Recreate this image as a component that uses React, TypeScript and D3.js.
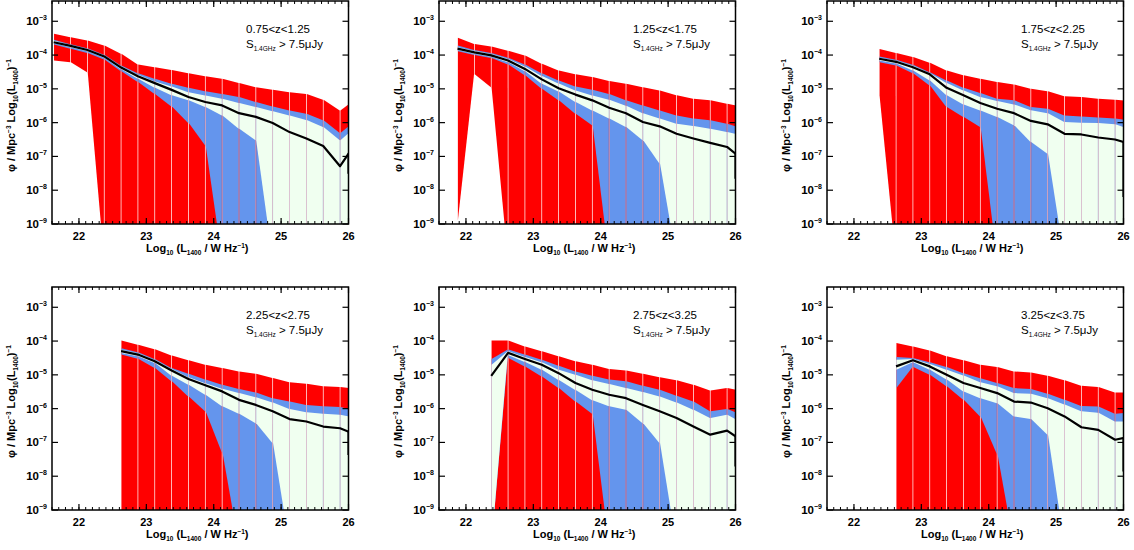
import * as d3 from "d3";

// six redshift slices (values are log10 phi)
const zRanges = ["0.75<z<1.25", "1.25<z<1.75", "1.75<z<2.25", "2.25<z<2.75", "2.75<z<3.25", "3.25<z<3.75"];
const binCentres = [21.625, 21.875, 22.125, 22.375, 22.625, 22.875, 23.125, 23.375, 23.625, 23.875, 24.125, 24.375, 24.625, 24.875, 25.125, 25.375, 25.625, 25.875, 26.125];
const firstBin = [0, 1, 3, 4, 3, 4];
const xTicks = [22, 23, 24, 25, 26];
const yDecades = [-9, -8, -7, -6, -5, -4, -3];

const redUpper = [
  [-3.37, -3.47, -3.57, -3.72, -3.96, -4.28, -4.36, -4.44, -4.54, -4.63, -4.70, -4.83, -4.95, -5.03, -5.10, -5.15, -5.32, -5.64, -5.28],
  [-3.49, -3.67, -3.75, -3.87, -4.01, -4.26, -4.46, -4.57, -4.65, -4.77, -4.85, -4.95, -5.05, -5.19, -5.29, -5.34, -5.44, -5.54],
  [-3.82, -3.94, -4.06, -4.23, -4.46, -4.60, -4.70, -4.80, -4.87, -5.00, -5.07, -5.22, -5.24, -5.29, -5.32, -5.36],
  [-3.98, -4.11, -4.24, -4.43, -4.57, -4.70, -4.80, -4.90, -4.97, -5.09, -5.22, -5.26, -5.34, -5.36, -5.42],
  [-3.98, -3.98, -4.16, -4.30, -4.45, -4.60, -4.70, -4.83, -4.87, -4.97, -5.07, -5.16, -5.29, -5.46, -5.39, -5.49],
  [-4.06, -4.16, -4.28, -4.45, -4.57, -4.70, -4.77, -4.90, -4.93, -5.03, -5.16, -5.32, -5.36, -5.52, -5.52],
];
const redLower = [
  [-4.16, -4.21, -4.51, -10, -10, -10, -10, -10, -10, -10, -10, -10, -10, -10, -10, -10, -10, -10, -10],
  [-8.9, -4.57, -4.95, -10, -10, -10, -10, -10, -10, -10, -10, -10, -10, -10, -10, -10, -10, -10],
  [-5.2, -10, -10, -10, -10, -10, -10, -10, -10, -10, -10, -10, -10, -10, -10, -10],
  [-10, -10, -10, -10, -10, -10, -10, -10, -10, -10, -10, -10, -10, -10, -10],
  [-10, -10, -10, -10, -10, -10, -10, -10, -10, -10, -10, -10, -10, -10, -10, -10],
  [-10, -10, -10, -10, -10, -10, -10, -10, -10, -10, -10, -10, -10, -10, -10],
];
const blueUpper = [
  [-3.55, -3.68, -3.80, -3.99, -4.31, -4.54, -4.70, -4.85, -4.97, -5.07, -5.15, -5.24, -5.39, -5.52, -5.64, -5.74, -5.93, -6.31, -5.91],
  [-3.72, -3.85, -3.94, -4.08, -4.28, -4.54, -4.75, -4.93, -5.03, -5.15, -5.34, -5.49, -5.64, -5.79, -5.88, -5.93, -6.03, -6.19],
  [-4.04, -4.14, -4.29, -4.51, -4.75, -4.97, -5.12, -5.29, -5.34, -5.54, -5.59, -5.79, -5.82, -5.85, -5.88, -5.94],
  [-4.21, -4.33, -4.53, -4.80, -4.97, -5.14, -5.29, -5.42, -5.52, -5.69, -5.79, -5.89, -5.93, -5.95, -6.07],
  [-4.53, -4.25, -4.40, -4.55, -4.73, -4.90, -5.03, -5.14, -5.19, -5.32, -5.44, -5.62, -5.79, -6.08, -6.01, -6.21],
  [-4.47, -4.50, -4.63, -4.77, -4.95, -5.10, -5.24, -5.39, -5.42, -5.56, -5.74, -5.92, -5.94, -6.15, -6.11],
];
const blueLower = [
  [-3.69, -3.81, -3.94, -4.13, -4.48, -4.80, -5.15, -5.52, -6.01, -6.67, -10, -10, -10, -10, -10, -10, -10, -10, -10],
  [-3.89, -4.00, -4.09, -4.28, -4.60, -5.00, -5.34, -5.74, -6.08, -10, -10, -10, -10, -10, -10, -10, -10, -10],
  [-4.21, -4.31, -4.54, -4.90, -5.54, -5.83, -6.13, -10, -10, -10, -10, -10, -10, -10, -10, -10],
  [-4.40, -4.52, -4.80, -5.19, -5.64, -6.08, -7.30, -10, -10, -10, -10, -10, -10, -10, -10],
  [-10, -4.50, -4.75, -5.05, -5.39, -5.79, -6.15, -10, -10, -10, -10, -10, -10, -10, -10, -10],
  [-5.39, -4.77, -5.00, -5.34, -5.74, -6.23, -7.34, -10, -10, -10, -10, -10, -10, -10, -10],
];
const greenUpper = [
  [-3.58, -3.70, -3.82, -4.01, -4.33, -4.58, -4.78, -4.93, -5.10, -5.20, -5.29, -5.42, -5.54, -5.66, -5.79, -5.92, -6.13, -6.52, -6.10],
  [-3.77, -3.88, -3.97, -4.12, -4.34, -4.62, -4.84, -5.05, -5.20, -5.32, -5.50, -5.72, -5.88, -6.03, -6.10, -6.18, -6.28, -6.38],
  [-4.08, -4.17, -4.32, -4.54, -4.83, -5.05, -5.24, -5.36, -5.46, -5.63, -5.72, -5.98, -6.00, -6.01, -6.05, -6.21],
  [-4.26, -4.36, -4.56, -4.83, -5.07, -5.25, -5.41, -5.54, -5.66, -5.82, -6.01, -6.11, -6.15, -6.18, -6.28],
  [-4.70, -4.30, -4.47, -4.63, -4.85, -5.00, -5.16, -5.27, -5.39, -5.51, -5.64, -5.82, -6.03, -6.28, -6.18, -6.44],
  [-4.55, -4.53, -4.68, -4.85, -5.02, -5.22, -5.34, -5.54, -5.56, -5.69, -5.88, -6.08, -6.12, -6.38, -6.38],
];
const greenLower = [
  [-3.65, -3.77, -3.89, -4.08, -4.42, -4.70, -4.97, -5.19, -5.34, -5.54, -5.79, -6.18, -6.52, -10, -10, -10, -10, -10, -10],
  [-3.85, -3.96, -4.05, -4.21, -4.48, -4.85, -5.08, -5.39, -5.64, -5.88, -6.13, -6.52, -7.21, -10, -10, -10, -10, -10],
  [-4.16, -4.25, -4.46, -4.75, -5.19, -5.46, -5.64, -5.83, -6.08, -6.57, -6.92, -10, -10, -10, -10, -10],
  [-4.35, -4.45, -4.65, -5.03, -5.29, -5.59, -5.93, -6.15, -6.43, -7.02, -10, -10, -10, -10, -10],
  [-10, -4.42, -4.62, -4.85, -5.15, -5.45, -5.75, -5.93, -6.03, -6.43, -7.02, -10, -10, -10, -10, -10],
  [-4.85, -4.63, -4.85, -5.14, -5.49, -5.69, -5.84, -6.23, -6.31, -6.77, -10, -10, -10, -10, -10],
];
const phi = [
  [-3.62, -3.73, -3.85, -4.04, -4.37, -4.63, -4.83, -5.03, -5.24, -5.39, -5.49, -5.72, -5.83, -6.01, -6.28, -6.47, -6.69, -7.29, -6.55],
  [-3.81, -3.92, -4.01, -4.16, -4.41, -4.72, -4.98, -5.17, -5.34, -5.56, -5.72, -5.98, -6.11, -6.33, -6.47, -6.60, -6.72, -7.12],
  [-4.11, -4.20, -4.36, -4.57, -4.97, -5.19, -5.42, -5.59, -5.72, -5.95, -6.05, -6.33, -6.35, -6.44, -6.50, -6.64],
  [-4.30, -4.40, -4.60, -4.87, -5.12, -5.31, -5.49, -5.74, -5.89, -6.08, -6.31, -6.38, -6.53, -6.58, -6.78],
  [-5.03, -4.35, -4.53, -4.70, -4.95, -5.24, -5.44, -5.59, -5.69, -5.89, -6.08, -6.28, -6.53, -6.77, -6.65, -6.99],
  [-4.75, -4.57, -4.75, -5.00, -5.24, -5.39, -5.54, -5.79, -5.82, -5.99, -6.23, -6.55, -6.63, -6.92, -6.82],
];
// where the black curve drops to at the right-hand edge
const phiEdgeDrop = [-7.51, -7.66, -8.2, -7.37, -7.71, -7.86];

const W = 296.5;
const H = 223;
const colLeft = [52, 439, 827];
const rowTop = [1, 287];
const font = "'Liberation Sans', Arial, sans-serif";

function Panel({ p }: { p: number }) {
  const left = colLeft[p % 3];
  const top = rowTop[Math.floor(p / 3)];
  const x = d3.scaleLinear().domain([21.6, 26]).range([left, left + W]);
  const y = d3.scaleLog().domain([1e-9, Math.pow(10, -2.4)]).range([top + H, top]);
  const xs = binCentres.slice(firstBin[p]);
  const gap = 0.35;

  // polyfill-like bands: one quad per bin step so the seams show like the original
  const band = (hi: number[], lo: number[], color: string, key: string) => {
    const area = d3
      .area<{ x: number; hi: number; lo: number }>()
      .x((d) => d.x)
      .y0((d) => y(Math.pow(10, d.lo)))
      .y1((d) => y(Math.pow(10, d.hi)));
    return xs.slice(0, -1).map((xv, i) => {
      const seg = [
        { x: x(xv) + gap, hi: hi[i], lo: lo[i] },
        { x: x(xs[i + 1]) - gap, hi: hi[i + 1], lo: lo[i + 1] },
      ];
      return <path key={key + i} d={area(seg) || ""} fill={color} />;
    });
  };

  const line = d3
    .line<number>()
    .x((_, i) => x(xs[i]))
    .y((v) => y(Math.pow(10, v)));
  const n = xs.length;
  const edgeVal = (phi[p][n - 2] + phi[p][n - 1]) / 2;

  const minor = x.ticks(44);
  const clipId = `clip-${p}`;

  return (
    <g>
      <defs>
        <clipPath id={clipId}>
          <rect x={left} y={top} width={W} height={H} />
        </clipPath>
      </defs>
      <g clipPath={`url(#${clipId})`}>
        {band(redUpper[p], redLower[p], "#ff0000", "r")}
        {band(blueUpper[p], blueLower[p], "#6495ed", "b")}
        {band(greenUpper[p], greenLower[p], "#f0fff0", "g")}
        <path d={line(phi[p]) || ""} fill="none" stroke="#000" strokeWidth={2.2} strokeLinejoin="round" />
        <line
          x1={x(26)}
          x2={x(26)}
          y1={y(Math.pow(10, edgeVal))}
          y2={y(Math.pow(10, phiEdgeDrop[p]))}
          stroke="#000"
          strokeWidth={2.2}
        />
      </g>
      <rect x={left} y={top} width={W} height={H} fill="none" stroke="#000" strokeWidth={1.5} />
      {minor.map((t) => (
        <g key={"mx" + t}>
          <line x1={x(t)} x2={x(t)} y1={top + H} y2={top + H - 3} stroke="#000" strokeWidth={1} />
          <line x1={x(t)} x2={x(t)} y1={top} y2={top + 3} stroke="#000" strokeWidth={1} />
        </g>
      ))}
      {xTicks.map((t) => (
        <g key={"x" + t}>
          <line x1={x(t)} x2={x(t)} y1={top + H} y2={top + H - 6} stroke="#000" strokeWidth={1.2} />
          <line x1={x(t)} x2={x(t)} y1={top} y2={top + 6} stroke="#000" strokeWidth={1.2} />
          <text x={x(t)} y={top + H + 16} textAnchor="middle" fontSize={11} fontWeight="bold" fontFamily={font}>
            {t}
          </text>
        </g>
      ))}
      {yDecades.map((d) => {
        const yy = y(Math.pow(10, d));
        return (
          <g key={"y" + d}>
            <line x1={left} x2={left + 6} y1={yy} y2={yy} stroke="#000" strokeWidth={1.2} />
            <line x1={left + W} x2={left + W - 6} y1={yy} y2={yy} stroke="#000" strokeWidth={1.2} />
            <text x={left - 5} y={yy + 4} textAnchor="end" fontSize={11.5} fontWeight="bold" fontFamily={font}>
              10
              <tspan dy={-5} fontSize={7}>
                {"\u2212" + Math.abs(d)}
              </tspan>
            </text>
          </g>
        );
      })}
      <text
        x={left + W / 2 - 3}
        y={top + H + 28}
        textAnchor="middle"
        fontSize={11}
        fontWeight="bold"
        fontFamily={font}
        style={{ whiteSpace: "pre" }}
      >
        Log<tspan dy={3} fontSize={6.5}>10</tspan>
        <tspan dy={-3}> (L</tspan>
        <tspan dy={3} fontSize={6.5}>1400</tspan>
        <tspan dy={-3}> / W Hz</tspan>
        <tspan dy={-4} fontSize={6.5}>−1</tspan>
        <tspan dy={4}>)</tspan>
      </text>
      <text
        transform={`translate(${left - 37},${top + H / 2 + 3}) rotate(-90)`}
        textAnchor="middle"
        fontSize={11}
        fontWeight="bold"
        fontFamily={font}
        style={{ whiteSpace: "pre" }}
      >
        φ / Mpc<tspan dy={-4} fontSize={6.5}>−3</tspan>
        <tspan dy={4}> Log</tspan>
        <tspan dy={3} fontSize={6.5}>10</tspan>
        <tspan dy={-3}>(L</tspan>
        <tspan dy={3} fontSize={6.5}>1400</tspan>
        <tspan dy={-3}>)</tspan>
        <tspan dy={-4} fontSize={6.5}>−1</tspan>
      </text>
      <text x={left + 194} y={top + 32} fontSize={11.5} fontFamily={font}>
        {zRanges[p]}
      </text>
      <text x={left + 194} y={top + 47} fontSize={11.5} fontFamily={font} style={{ whiteSpace: "pre" }}>
        S<tspan dy={3} fontSize={6.5}>1.4GHz</tspan>
        <tspan dy={-3}> {">"} 7.5μJy</tspan>
      </text>
    </g>
  );
}

export default function App() {
  return (
    <svg
      width={1134}
      height={550}
      style={{ position: "absolute", left: 0, top: 0, background: "#fff" }}
    >
      {zRanges.map((_, p) => (
        <Panel key={p} p={p} />
      ))}
    </svg>
  );
}
